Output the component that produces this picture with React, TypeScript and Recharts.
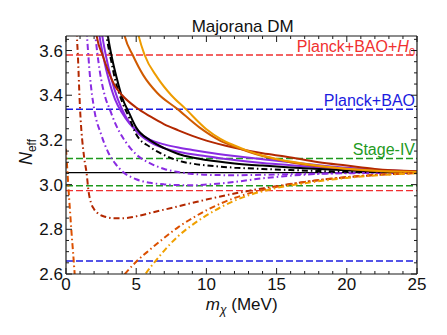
import React from "react";
import { LineChart, Line, XAxis, YAxis, ReferenceLine } from "recharts";

// ---- tick labels ----
const xTicks = [0, 1, 2, 3, 4, 5, 6, 7, 8, 9, 10, 11, 12, 13, 14, 15, 16, 17, 18, 19, 20, 21, 22, 23, 24, 25];
const yTicks = [2.6, 2.65, 2.7, 2.75, 2.8, 2.85, 2.9, 2.95, 3.0, 3.05, 3.1, 3.15, 3.2, 3.25, 3.3, 3.35, 3.4, 3.45, 3.5, 3.55, 3.6, 3.65];
const xDomain = [0, 25];
const yDomain = [2.6, 3.665];

// ---- reference levels ----
const smNeff = 3.054;
const planckBaoH0 = [3.58, 2.973];
const planckBao = [3.337, 2.658];
const stageIV = [3.117, 2.995];

// ---- curves [m_chi, N_eff] ----
const blackSolid = [[2.8, 3.75], [3.0, 3.66], [3.3, 3.56], [3.6, 3.48], [4.0, 3.39], [4.5, 3.32], [5, 3.255], [6, 3.198], [7, 3.163], [8, 3.137], [9, 3.121], [10, 3.11], [12, 3.095], [14, 3.085], [16, 3.077], [18, 3.07], [20, 3.064], [22, 3.059], [25, 3.056]];
const blackDashDot = [[2.7, 3.75], [2.9, 3.66], [3.2, 3.56], [3.5, 3.47], [4, 3.37], [4.5, 3.3], [5, 3.225], [6, 3.168], [7, 3.132], [8, 3.107], [9, 3.094], [10, 3.086], [12, 3.076], [14, 3.07], [16, 3.065], [20, 3.058], [25, 3.055]];
const purpleSolid1 = [[2.2, 3.75], [2.4, 3.66], [2.7, 3.56], [3, 3.48], [3.5, 3.38], [4, 3.32], [4.5, 3.275], [5, 3.242], [6, 3.2], [7, 3.18], [8, 3.166], [9, 3.155], [10, 3.145], [12, 3.128], [14, 3.113], [16, 3.1], [18, 3.087], [20, 3.075], [22, 3.066], [25, 3.058]];
const purpleSolid2 = [[2.4, 3.75], [2.6, 3.66], [2.9, 3.56], [3.2, 3.48], [3.7, 3.38], [4.2, 3.31], [5, 3.24], [6, 3.19], [7, 3.163], [8, 3.147], [10, 3.127], [12, 3.11], [14, 3.097], [16, 3.087], [20, 3.07], [25, 3.057]];
const purpleDashDot1 = [[1.4, 3.75], [1.5, 3.66], [1.7, 3.49], [2.0, 3.34], [2.5, 3.225], [3.0, 3.145], [3.5, 3.095], [4, 3.06], [5, 3.024], [6, 3.008], [7, 3.001], [8, 2.998], [9, 2.997], [10, 3.0], [12, 3.012], [14, 3.028], [16, 3.04], [18, 3.048], [20, 3.052], [25, 3.054]];
const purpleDashDot2 = [[1.95, 3.75], [2.1, 3.66], [2.4, 3.51], [2.8, 3.39], [3.1, 3.34], [3.5, 3.275], [4, 3.215], [4.5, 3.17], [5, 3.135], [6, 3.095], [7, 3.07], [8, 3.056], [9, 3.048], [10, 3.044], [12, 3.042], [14, 3.044], [16, 3.047], [20, 3.051], [25, 3.054]];
const darkRedSolid = [[2.0, 3.75], [2.2, 3.66], [2.6, 3.58], [3.0, 3.51], [3.5, 3.44], [4, 3.4], [5, 3.345], [6, 3.305], [7, 3.27], [8, 3.243], [9, 3.218], [10, 3.197], [12, 3.165], [14, 3.14], [15.7, 3.125], [18, 3.1], [20, 3.085], [22, 3.07], [25, 3.06]];
const brownSolid = [[3.9, 3.75], [4.2, 3.66], [4.75, 3.58], [5.5, 3.49], [6.5, 3.41], [7.9, 3.34], [9.5, 3.256], [11, 3.196], [12, 3.17], [13, 3.147], [14, 3.128], [15, 3.113], [16, 3.1], [18, 3.082], [20, 3.07], [22, 3.062], [25, 3.056]];
const orangeSolid = [[4.9, 3.75], [5.2, 3.66], [5.6, 3.58], [6.5, 3.48], [7.5, 3.4], [8.5, 3.34], [10, 3.248], [11, 3.205], [12, 3.175], [13, 3.15], [14, 3.13], [15, 3.115], [16, 3.103], [18, 3.084], [20, 3.071], [22, 3.062], [25, 3.056]];
const darkRedDashDot = [[0.74, 3.75], [0.78, 3.66], [0.83, 3.6], [1.0, 3.34], [1.3, 3.118], [1.47, 3.05], [1.6, 2.973], [1.8, 2.915], [2.0, 2.89], [2.3, 2.87], [2.8, 2.856], [3.3, 2.85], [3.9, 2.849], [5, 2.858], [6, 2.873], [7, 2.888], [8, 2.903], [9, 2.918], [10, 2.933], [11, 2.947], [12, 2.96], [13, 2.972], [14, 2.983], [15, 2.993], [17, 3.012], [20, 3.033], [22, 3.043], [25, 3.052]];
const redOrangeDashDotLow = [[0, 3.16], [0.1, 3.06], [0.2, 2.96], [0.3, 2.87], [0.4, 2.78], [0.5, 2.7], [0.6, 2.615], [0.7, 2.53]];
const redOrangeDashDot = [[3.6, 2.55], [4.2, 2.6], [5, 2.655], [6, 2.71], [7, 2.762], [8, 2.81], [9, 2.85], [10, 2.885], [11, 2.915], [12, 2.94], [13, 2.96], [14, 2.976], [15, 2.99], [17, 3.012], [20, 3.034], [25, 3.052]];
const orangeDashDot = [[5.2, 2.55], [5.66, 2.6], [6.4, 2.66], [7, 2.705], [8, 2.77], [9, 2.82], [10, 2.862], [11, 2.898], [12, 2.928], [13, 2.952], [14, 2.97], [15, 2.985], [17, 3.006], [20, 3.03], [25, 3.051]];

const toPts = (a: number[][]) => a.map(([x, y]) => ({ x, y }));

const FONT = "'Liberation Sans', Arial, Helvetica, sans-serif";
const FRAME = "#1a1a1a";
const DASHDOT = "6 3 1.5 3";

const BottomTick = (props: any) => {
  const { x, y, payload } = props;
  const v = payload.value;
  const major = v % 5 === 0;
  return (
    <g>
      <line x1={x} x2={x} y1={y} y2={y - (major ? 6 : 3)} stroke={FRAME} strokeWidth={1} />
      {major && (
        <text x={x} y={y + 16} textAnchor="middle" fontSize={17} fontFamily={FONT} fill="#111">
          {v}
        </text>
      )}
    </g>
  );
};
const TopTick = (props: any) => {
  const { x, y, payload } = props;
  const major = payload.value % 5 === 0;
  return <line x1={x} x2={x} y1={y} y2={y + (major ? 6 : 3)} stroke={FRAME} strokeWidth={1} />;
};
const isMajorY = (v: number) => Math.round(v * 100) % 20 === 0;
const LeftTick = (props: any) => {
  const { x, y, payload } = props;
  const v = payload.value;
  const major = isMajorY(v);
  return (
    <g>
      <line x1={x} x2={x + (major ? 6 : 3)} y1={y} y2={y} stroke={FRAME} strokeWidth={1} />
      {major && (
        <text x={x - 3} y={y + 6} textAnchor="end" fontSize={17} fontFamily={FONT} fill="#111">
          {v.toFixed(1)}
        </text>
      )}
    </g>
  );
};
const RightTick = (props: any) => {
  const { x, y, payload } = props;
  const major = isMajorY(payload.value);
  return <line x1={x} x2={x - (major ? 6 : 3)} y1={y} y2={y} stroke={FRAME} strokeWidth={1} />;
};

const RefLabel = (props: any) => {
  const { viewBox, text, color, sub } = props;
  if (!viewBox) return null;
  const x = viewBox.x + viewBox.width - 2;
  const y = viewBox.y - 3;
  return (
    <text x={x} y={y} textAnchor="end" fontSize={16} fontFamily={FONT} fill={color}>
      {text}
      {sub && (
        <>
          <tspan fontStyle="italic">H</tspan>
          <tspan fontSize={11} dy={4}>0</tspan>
        </>
      )}
    </text>
  );
};

export default function App() {
  const curve = (data: number[][], color: string, dashed: boolean, key: string) => (
    <Line
      key={key}
      data={toPts(data)}
      dataKey="y"
      type="monotone"
      stroke={color}
      strokeWidth={2}
      strokeDasharray={dashed ? DASHDOT : undefined}
      dot={false}
      activeDot={false}
      isAnimationActive={false}
    />
  );
  return (
    <div style={{ width: 439, height: 327 }}>
      <LineChart width={439} height={327} margin={{ left: 18, top: 27, right: 29, bottom: 31 }}>
        <XAxis
          dataKey="x"
          type="number"
          domain={xDomain}
          ticks={xTicks}
          allowDataOverflow
          height={30}
          tickSize={0}
          tickMargin={0}
          tickLine={false}
          tick={<BottomTick />}
          axisLine={{ stroke: FRAME, strokeWidth: 1.2 }}
          interval={0}
        />
        <XAxis
          xAxisId="top"
          orientation="top"
          dataKey="x"
          type="number"
          domain={xDomain}
          ticks={xTicks}
          allowDataOverflow
          height={1}
          tickSize={0}
          tickMargin={0}
          tickLine={false}
          tick={<TopTick />}
          axisLine={{ stroke: FRAME, strokeWidth: 1.2 }}
          interval={0}
        />
        <YAxis
          type="number"
          domain={yDomain}
          ticks={yTicks}
          allowDataOverflow
          width={40}
          tickSize={0}
          tickMargin={0}
          tickLine={false}
          tick={<LeftTick />}
          axisLine={{ stroke: FRAME, strokeWidth: 1.2 }}
          interval={0}
        />
        <YAxis
          yAxisId="right"
          orientation="right"
          type="number"
          domain={yDomain}
          ticks={yTicks}
          allowDataOverflow
          width={1}
          tickSize={0}
          tickMargin={0}
          tickLine={false}
          tick={<RightTick />}
          axisLine={{ stroke: FRAME, strokeWidth: 1.2 }}
          interval={0}
        />

        <ReferenceLine y={planckBaoH0[0]} stroke="#f03030" strokeWidth={1.4} strokeDasharray="7 3" label={<RefLabel text="Planck+BAO+" color="#f03030" sub />} />
        <ReferenceLine y={planckBaoH0[1]} stroke="#f03030" strokeWidth={1.4} strokeDasharray="7 3" />
        <ReferenceLine y={planckBao[0]} stroke="#1c1ce0" strokeWidth={1.4} strokeDasharray="7 3" label={<RefLabel text="Planck+BAO" color="#1c1ce0" />} />
        <ReferenceLine y={planckBao[1]} stroke="#1c1ce0" strokeWidth={1.4} strokeDasharray="7 3" />
        <ReferenceLine y={stageIV[0]} stroke="#1e9a1e" strokeWidth={1.4} strokeDasharray="7 3" label={<RefLabel text="Stage-IV" color="#1e9a1e" />} />
        <ReferenceLine y={stageIV[1]} stroke="#1e9a1e" strokeWidth={1.4} strokeDasharray="7 3" />
        <ReferenceLine y={smNeff} stroke="#000" strokeWidth={1.3} />

        {curve(purpleDashDot1, "#8a2be2", true, "pd1")}
        {curve(purpleDashDot2, "#8a2be2", true, "pd2")}
        {curve(purpleSolid1, "#8a2be2", false, "ps1")}
        {curve(purpleSolid2, "#8a2be2", false, "ps2")}
        {curve(blackSolid, "#000000", false, "bs")}
        {curve(blackDashDot, "#000000", true, "bd")}
        {curve(darkRedSolid, "#b32800", false, "drs")}
        {curve(brownSolid, "#d05a00", false, "brs")}
        {curve(orangeSolid, "#ee9c00", false, "ors")}
        {curve(darkRedDashDot, "#b32800", true, "drd")}
        {curve(redOrangeDashDotLow, "#dc5000", true, "rodl")}
        {curve(redOrangeDashDot, "#dc5000", true, "rod")}
        {curve(orangeDashDot, "#f0a000", true, "od")}

        <text x={234.7} y={23.5} textAnchor="middle" fontSize={17} fontFamily={FONT} fill="#111">
          Majorana DM
        </text>
        <text x={233.7} y={302} textAnchor="middle" fontSize={17} fontFamily={FONT} fill="#111">
          <tspan fontStyle="italic">m</tspan>
          <tspan fontStyle="italic" fontSize={12} dy={4}>χ</tspan>
          <tspan dy={-4}> (MeV)</tspan>
        </text>
        <text x={24} y={144} textAnchor="middle" fontSize={18} fontFamily={FONT} fill="#111" transform="rotate(-90 24 144)">
          <tspan fontStyle="italic">N</tspan>
          <tspan fontSize={12} dy={4}>eff</tspan>
        </text>
      </LineChart>
    </div>
  );
}
